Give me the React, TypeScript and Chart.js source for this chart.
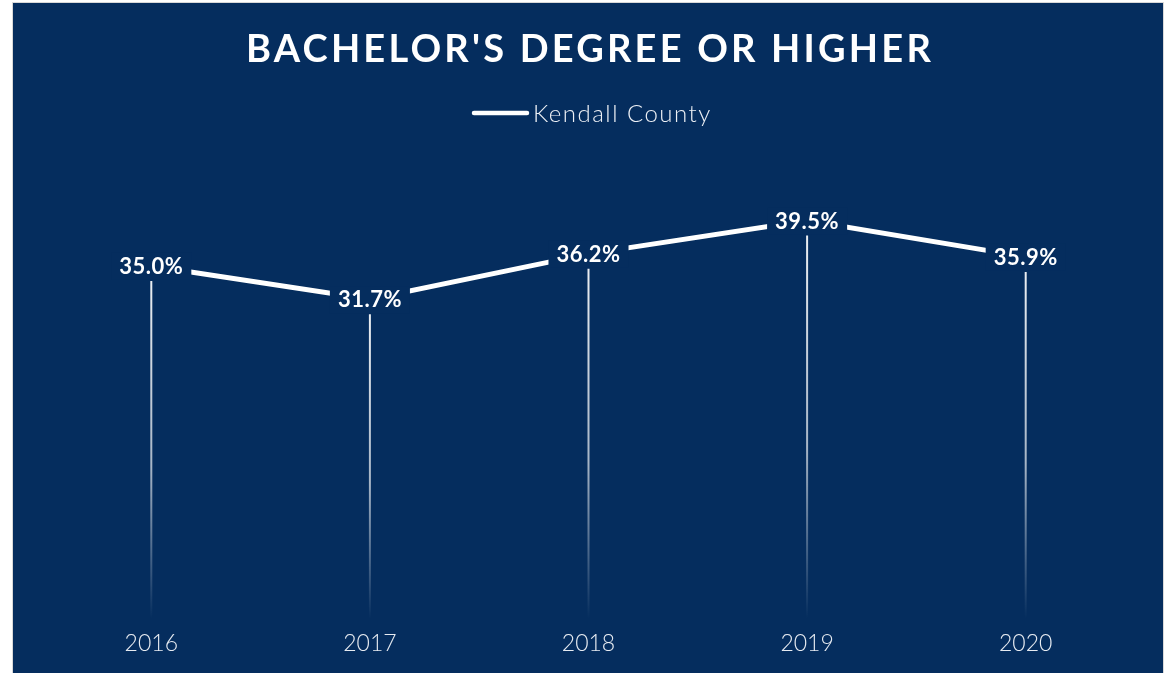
import React, { useEffect, useRef } from "react";
import { Chart, registerables } from "chart.js";

Chart.register(...registerables);

const categories = ["2016", "2017", "2018", "2019", "2020"];
const bachelorValues = [35.0, 31.7, 36.2, 39.5, 35.9];
const seriesLabel = "Kendall County";
const chartTitle = "BACHELOR'S DEGREE OR HIGHER";

const NAVY = "#052D5E";
const FONT = "Lato, 'Open Sans', sans-serif";

const decorPlugin = {
  id: "decor",
  afterDatasetsDraw(chart: any) {
    const ctx = chart.ctx as CanvasRenderingContext2D;
    const area = chart.chartArea;
    const meta = chart.getDatasetMeta(0);
    ctx.save();
    // drop lines
    meta.data.forEach((pt: any) => {
      const top = pt.y + 15;
      const g = ctx.createLinearGradient(0, top, 0, area.bottom);
      g.addColorStop(0, "rgba(255,255,255,0.92)");
      g.addColorStop(0.55, "rgba(255,255,255,0.65)");
      g.addColorStop(1, "rgba(255,255,255,0)");
      ctx.strokeStyle = g;
      ctx.lineWidth = 2;
      ctx.beginPath();
      ctx.moveTo(pt.x, top);
      ctx.lineTo(pt.x, area.bottom);
      ctx.stroke();
    });
    // data labels
    ctx.font = `bold 22px ${FONT}`;
    (ctx as any).letterSpacing = "0.5px";
    ctx.textAlign = "center";
    ctx.textBaseline = "middle";
    meta.data.forEach((pt: any, i: number) => {
      const txt = bachelorValues[i].toFixed(1) + "%";
      const w = ctx.measureText(txt).width;
      ctx.fillStyle = NAVY;
      ctx.fillRect(pt.x - w / 2 - 8, pt.y - 13, w + 16, 27);
      ctx.fillStyle = "#ffffff";
      ctx.fillText(txt, pt.x, pt.y + 1);
    });
    // title
    ctx.fillStyle = "#ffffff";
    ctx.font = `bold 38px ${FONT}`;
    (ctx as any).letterSpacing = "3.2px";
    ctx.textAlign = "center";
    ctx.textBaseline = "middle";
    ctx.fillText(chartTitle, chart.width / 2 + 2, 47);
    // legend
    ctx.strokeStyle = "#ffffff";
    ctx.lineWidth = 4.5;
    ctx.lineCap = "round";
    ctx.beginPath();
    ctx.moveTo(461, 110);
    ctx.lineTo(514, 110);
    ctx.stroke();
    ctx.font = `300 24px ${FONT}`;
    (ctx as any).letterSpacing = "1.5px";
    ctx.textAlign = "left";
    ctx.fillStyle = "#eef1f6";
    ctx.fillText(seriesLabel, 520, 111);
    (ctx as any).letterSpacing = "0px";
    ctx.restore();
  },
};

export default function App() {
  const ref = useRef<HTMLCanvasElement | null>(null);
  useEffect(() => {
    if (!ref.current) return;
    const chart = new Chart(ref.current, {
      type: "line",
      data: {
        labels: categories,
        datasets: [
          {
            label: seriesLabel,
            data: bachelorValues,
            borderColor: "#ffffff",
            backgroundColor: "#ffffff",
            borderWidth: 5,
            pointRadius: 0,
            tension: 0,
          },
        ],
      },
      options: {
        animation: false,
        responsive: true,
        maintainAspectRatio: false,
        layout: { padding: { top: 162, left: 29, right: 28, bottom: 6 } },
        plugins: {
          legend: { display: false },
          title: { display: false },
          tooltip: { enabled: false },
        },
        scales: {
          x: {
            offset: true,
            grid: { display: false, drawTicks: false },
            border: { display: false },
            ticks: {
              color: "#e8ecf2",
              font: { family: FONT, size: 23, weight: 300 as any },
              padding: 10,
            },
          },
          y: { display: false, min: 0, max: 45 },
        },
      },
      plugins: [decorPlugin],
    });
    return () => chart.destroy();
  }, []);

  return (
    <div
      style={{
        position: "fixed",
        left: 12,
        top: 2,
        width: 1150,
        height: 680,
        border: "1px solid #d9d9d9",
        background: NAVY,
      }}
    >
      <div style={{ position: "relative", width: 1150, height: 670 }}>
        <canvas ref={ref} />
      </div>
    </div>
  );
}
